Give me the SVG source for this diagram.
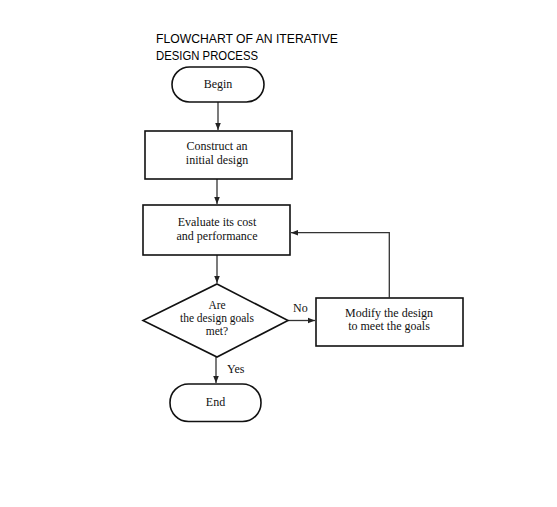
<svg xmlns="http://www.w3.org/2000/svg" width="557" height="507" viewBox="0 0 557 507">
<defs>
<style>
.title{font-family:"Liberation Sans",Arial,sans-serif;font-size:13px;fill:#000}
.t{font-family:"Liberation Serif","Times New Roman",serif;font-size:12px;fill:#111;text-anchor:middle}
.d{font-size:11.5px}
.l{font-family:"Liberation Serif","Times New Roman",serif;font-size:12px;fill:#111}
.shape{fill:#fff;stroke:#111;stroke-width:1.6}
.c{fill:none;stroke:#333;stroke-width:1.3}
</style>
<marker id="ah" viewBox="0 0 10 10" refX="10" refY="5" markerWidth="7" markerHeight="7" markerUnits="userSpaceOnUse" orient="auto">
<path d="M0,1 L10,5 L0,9 z" fill="#222"/>
</marker>
</defs>
<rect width="557" height="507" fill="#fff"/>
<text class="title" x="156" y="43" textLength="182" lengthAdjust="spacingAndGlyphs">FLOWCHART OF AN ITERATIVE</text>
<text class="title" x="156" y="60" textLength="102" lengthAdjust="spacingAndGlyphs">DESIGN PROCESS</text>
<g id="connectors">
<path class="c" d="M218,102 V130" marker-end="url(#ah)"/>
<path class="c" d="M217,179 V204" marker-end="url(#ah)"/>
<path class="c" d="M217,255 V283" marker-end="url(#ah)"/>
<path class="c" d="M288,320.5 H315" marker-end="url(#ah)"/>
<path class="c" d="M389.3,297.5 V232.7 H291" marker-end="url(#ah)"/>
<path class="c" d="M216,357 V383" marker-end="url(#ah)"/>
<text class="l" x="293" y="312">No</text>
<text class="l" x="227" y="373">Yes</text>
</g>
<g id="begin">
<rect class="shape" x="172" y="67" width="92" height="35" rx="17.5"/>
<text class="t" x="218" y="88">Begin</text>
</g>
<g id="construct">
<rect class="shape" x="145" y="131" width="147" height="48"/>
<text class="t" x="217" y="150">Construct an</text>
<text class="t" x="217" y="164">initial design</text>
</g>
<g id="evaluate">
<rect class="shape" x="143" y="205" width="147" height="50"/>
<text class="t" x="217" y="226">Evaluate its cost</text>
<text class="t" x="217" y="240">and performance</text>
</g>
<g id="decision">
<polygon class="shape" points="217,284 288,320.5 217,357 143,320.5"/>
<text class="t d" x="217" y="308.5">Are</text>
<text class="t d" x="217" y="321.5">the design goals</text>
<text class="t d" x="217" y="334.5">met?</text>
</g>
<g id="modify">
<rect class="shape" x="316" y="298" width="147" height="48"/>
<text class="t" x="389" y="317">Modify the design</text>
<text class="t" x="389" y="330">to meet the goals</text>
</g>
<g id="end">
<rect class="shape" x="170" y="384" width="91" height="37.5" rx="18.5"/>
<text class="t" x="215.5" y="406">End</text>
</g>
</svg>
